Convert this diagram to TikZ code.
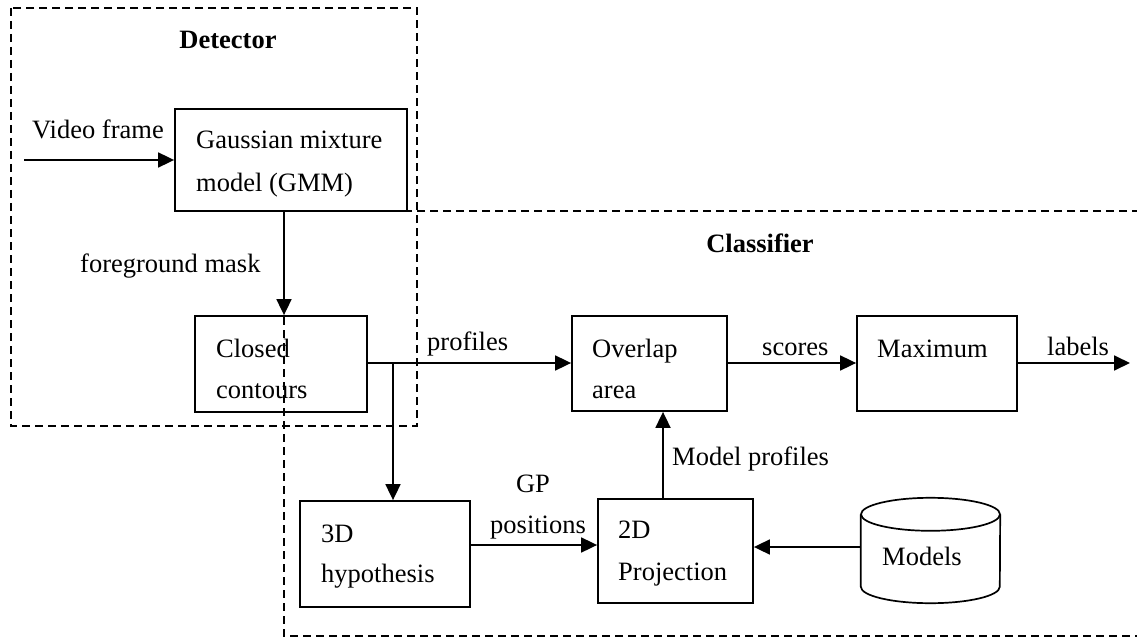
\documentclass[tikz,border=0pt]{standalone}
\usepackage{fontspec}
\setmainfont{Liberation Serif}
\usetikzlibrary{arrows.meta,calc}

\begin{document}
\begin{tikzpicture}[x=1pt,y=-1pt,
  txt/.style={font=\fontsize{26.5}{30}\selectfont, inner sep=0pt, anchor=base west},
  head/.style={font=\fontsize{26.5}{30}\selectfont\bfseries, inner sep=0pt, anchor=base},
  box/.style={draw, line width=1.8pt, inner sep=0pt},
  region/.style={line width=1.5pt, dash pattern=on 8pt off 5pt},
  arr/.style={line width=1.8pt, -{Triangle[length=16pt,width=15pt]}},
  wire/.style={line width=1.8pt}]

\useasboundingbox (0,0) rectangle (1137,639);

% dashed regions
\draw[region] (11,8) rectangle (417,426);
\draw[region] (1140,211) -- (284,211) -- (284,636) -- (1140,636);
\node[head] (detlbl) at (228,49) {Detector};
\node[head] (clslbl) at (760,252) {Classifier};

% processing blocks
\node[box, minimum width=232pt, minimum height=102pt] (gmm) at (291,160) {};
\node[box, minimum width=172pt, minimum height=96pt] (closed) at (281,364) {};
\node[box, minimum width=155pt, minimum height=95pt] (overlap) at (649.5,363.5) {};
\node[box, minimum width=160pt, minimum height=95pt] (maximum) at (937,363.5) {};
\node[box, minimum width=170pt, minimum height=106pt] (hyp) at (385,554) {};
\node[box, minimum width=155pt, minimum height=104pt] (proj) at (675.5,551) {};
\node[minimum width=139pt, minimum height=105pt, inner sep=0pt] (models) at (930.5,550.5) {};

% database cylinder
\draw[line width=1.7pt]
  ($(models.north)+(0,16.5)$) ellipse [x radius=69.5, y radius=16.5];
\draw[line width=1.7pt]
  ($(models.north west)+(0,16.5)$) -- ($(models.south west)+(0,-16.5)$)
  arc[start angle=180, end angle=360, x radius=69.5, y radius=-16.5]
  -- ($(models.north east)+(0,16.5)$);

% block texts
\node[txt] (t1) at (196,149) {Gaussian mixture};
\node[txt] (t2) at (196,192) {model (GMM)};
\node[txt] (t3) at (216,357) {Closed};
\node[txt] (t4) at (216,398) {contours};
\node[txt] (t5) at (592,357) {Overlap};
\node[txt] (t6) at (592,398) {area};
\node[txt] (t7) at (877,357) {Maximum};
\node[txt] (t8) at (321,542) {3D};
\node[txt] (t9) at (321,582) {hypothesis};
\node[txt] (t10) at (618,538) {2D};
\node[txt] (t11) at (618,580) {Projection};
\node[txt] (t12) at (882,565) {Models};

% connector labels
\node[txt] (l1) at (32,139) {Video frame};
\node[txt] (l2) at (80,272) {foreground mask};
\node[txt] (l3) at (427,350) {profiles};
\node[txt] (l4) at (762,355) {scores};
\node[txt] (l5) at (1047,355) {labels};
\node[txt] (l6) at (672,465) {Model profiles};
\node[txt, anchor=base] (l7) at (533,492) {GP};
\node[txt] (l8) at (490,533) {positions};

% connectors
\coordinate (vin) at (24,160);
\coordinate (out) at (1130,363);
\coordinate (fgx) at (284,0);
\coordinate (br) at (393,363);
\coordinate (mpx) at (663,0);
\coordinate (gpy) at (0,545);
\coordinate (mdy) at (0,547);

\draw[arr] (vin) -- (vin -| gmm.west);
\draw[arr] (gmm.south -| fgx) -- (closed.north -| fgx);
\draw[arr] (closed.east |- br) -- (br -| overlap.west);
\draw[arr] (br) -- (br |- hyp.north);
\draw[arr] (hyp.east |- gpy) -- (proj.west |- gpy);
\draw[arr] (proj.north -| mpx) -- (overlap.south -| mpx);
\draw[arr] (overlap.east |- br) -- (br -| maximum.west);
\draw[arr] (maximum.east |- out) -- (out);
\draw[arr] (models.west |- mdy) -- (proj.east |- mdy);
\end{tikzpicture}
\end{document}
